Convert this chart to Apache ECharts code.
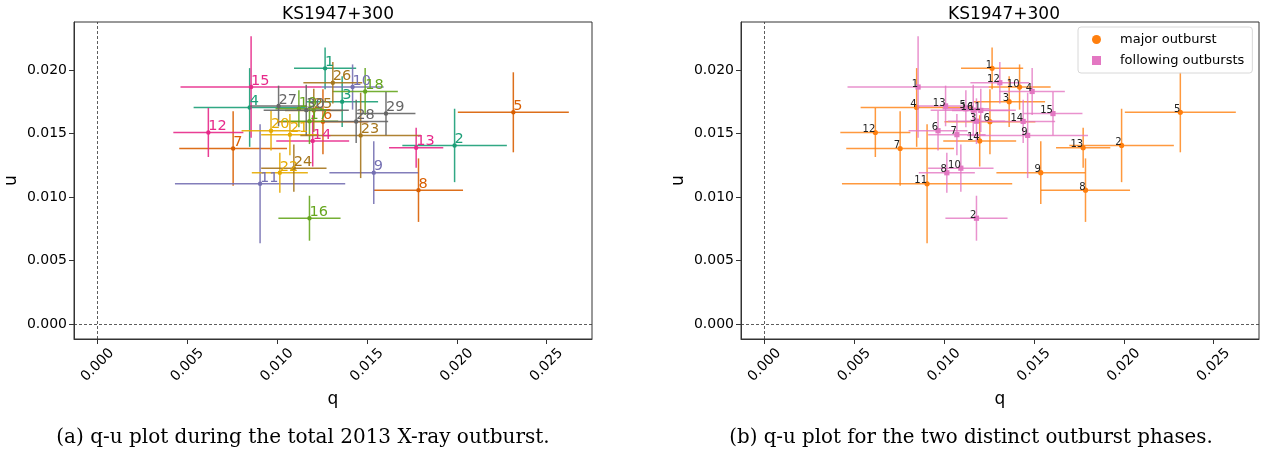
<!DOCTYPE html>
<html>
<head>
<meta charset="utf-8">
<script src="https://cdn.jsdelivr.net/npm/echarts@6/dist/echarts.min.js"></script>
<style>
  html, body { margin: 0; padding: 0; background: #ffffff; }
  #chart { width: 1261px; height: 455px; }
</style>
</head>
<body>
<div id="chart"></div>
<script>
// Observation numbers 1..30 (1-14: major outburst, 15-30: following outbursts)
const obsNumbers = [1, 2, 3, 4, 5, 6, 7, 8, 9, 10, 11, 12, 13, 14, 15,
                    16, 17, 18, 19, 20, 21, 22, 23, 24, 25, 26, 27, 28, 29, 30];
// Normalised Stokes q and u
const qVals = [0.01267, 0.01988, 0.01362, 0.00847, 0.02315, 0.01255, 0.00755, 0.01787, 0.01538, 0.01420,
               0.00905, 0.00617, 0.01774, 0.01198, 0.00855, 0.01180, 0.01180, 0.01490, 0.01121, 0.00966,
               0.01071, 0.01015, 0.01465, 0.01093, 0.01204, 0.01310, 0.01008, 0.01440, 0.01606, 0.01162];
const uVals = [0.02013, 0.01406, 0.01751, 0.01705, 0.01667, 0.01593, 0.01382, 0.01054, 0.01192, 0.01866,
               0.01104, 0.01508, 0.01388, 0.01442, 0.01866, 0.00833, 0.01597, 0.01831, 0.01695, 0.01522,
               0.01491, 0.01191, 0.01485, 0.01227, 0.01682, 0.01900, 0.01717, 0.01595, 0.01657, 0.01684];
// 1-sigma errors on q and u
const qErrs = [0.00173, 0.00291, 0.00200, 0.00312, 0.00309, 0.00253, 0.00300, 0.00248, 0.00247, 0.00173,
               0.00474, 0.00195, 0.00151, 0.00203, 0.00393, 0.00173, 0.00160, 0.00182, 0.00130, 0.00164,
               0.00160, 0.00156, 0.00336, 0.00182, 0.00160, 0.00164, 0.00157, 0.00178, 0.00164, 0.00237];
const uErrs = [0.00165, 0.00289, 0.00200, 0.00310, 0.00315, 0.00256, 0.00293, 0.00250, 0.00248, 0.00178,
               0.00468, 0.00193, 0.00157, 0.00202, 0.00400, 0.00177, 0.00180, 0.00185, 0.00145, 0.00155,
               0.00162, 0.00157, 0.00336, 0.00186, 0.00170, 0.00163, 0.00160, 0.00170, 0.00170, 0.00200];
const majorCount = 14;

const qTicks = [0, 0.005, 0.010, 0.015, 0.020, 0.025];
const uTicks = [0, 0.005, 0.010, 0.015, 0.020];
const qRange = [-0.00131, 0.02753];
const uRange = [-0.00118, 0.02378];

// Dark2 colour map sampled across the observations
const dark2 = ['#1b9e77', '#d95f02', '#7570b3', '#e7298a', '#66a61e', '#e6ab02', '#a6761d', '#666666'];
function dark2At(i, n) {
  return dark2[Math.min(7, Math.floor(i / (n - 1) * 8))];
}
const majorColor = '#ff7f0e';
const followColor = '#e377c2';

const rows = obsNumbers.map((n, i) => [qVals[i], uVals[i], qErrs[i], uErrs[i], i]);
const majorRows = rows.slice(0, majorCount).map((r, j) => r.slice(0, 4).concat([j + 1]));
const followRows = rows.slice(majorCount).map((r, j) => r.slice(0, 4).concat([j + 1]));

function errorBars(colorOf, marker, lineOpacity) {
  return function (params, api) {
    const q = api.value(0), u = api.value(1), qe = api.value(2), ue = api.value(3), k = api.value(4);
    const a = api.coord([q - qe, u]), b = api.coord([q + qe, u]);
    const c = api.coord([q, u - ue]), d = api.coord([q, u + ue]);
    const p = api.coord([q, u]);
    const col = colorOf(k);
    const mark = marker === 'square'
      ? { type: 'rect', shape: { x: p[0] - 2.6, y: p[1] - 2.6, width: 5.2, height: 5.2 }, style: { fill: col } }
      : { type: 'circle', shape: { cx: p[0], cy: p[1], r: marker === 'dot' ? 2.2 : 2.6 }, style: { fill: col } };
    return {
      type: 'group',
      children: [
        { type: 'line', shape: { x1: a[0], y1: a[1], x2: b[0], y2: b[1] }, style: { stroke: col, lineWidth: 1.5, opacity: lineOpacity } },
        { type: 'line', shape: { x1: c[0], y1: c[1], x2: d[0], y2: d[1] }, style: { stroke: col, lineWidth: 1.5, opacity: lineOpacity } },
        mark
      ]
    };
  };
}

function numberLabels(colorOf, align, fontSize, dy) {
  return function (params, api) {
    const p = api.coord([api.value(0), api.value(1)]);
    const k = api.value(4);
    return {
      type: 'text',
      style: {
        text: String(align === 'left' ? obsNumbers[k] : k),
        x: p[0], y: p[1] + dy,
        align: align, verticalAlign: 'bottom',
        fill: colorOf(k),
        font: fontSize + 'px "DejaVu Sans"'
      }
    };
  };
}

const dims = ['q', 'u', 'qe', 'ue', 'k'];
const axisText = { color: '#000', fontFamily: 'DejaVu Sans', fontSize: 14 };

function xAxisFor(g) {
  return {
    gridIndex: g, type: 'value', min: qRange[0], max: qRange[1],
    name: 'q', nameLocation: 'middle', nameGap: 41,
    nameTextStyle: { color: '#000', fontFamily: 'DejaVu Sans', fontSize: 17 },
    axisLine: { show: true, onZero: false, lineStyle: { color: '#333', width: 1 } },
    axisTick: { show: true, length: 5, customValues: qTicks, lineStyle: { color: '#333' } },
    axisLabel: Object.assign({ customValues: qTicks, rotate: 45, margin: 26, align: 'center', verticalAlign: 'middle',
                               formatter: v => v.toFixed(3) }, axisText),
    splitLine: { show: false }
  };
}
function yAxisFor(g) {
  return {
    gridIndex: g, type: 'value', min: uRange[0], max: uRange[1],
    name: 'u', nameLocation: 'middle', nameGap: 54, nameRotate: 90,
    nameTextStyle: { color: '#000', fontFamily: 'DejaVu Sans', fontSize: 17 },
    axisLine: { show: true, onZero: false, lineStyle: { color: '#333', width: 1 } },
    axisTick: { show: true, length: 5, customValues: uTicks, lineStyle: { color: '#333' } },
    axisLabel: Object.assign({ customValues: uTicks, margin: 7, formatter: v => v.toFixed(3) }, axisText),
    splitLine: { show: false }
  };
}

function zeroLines(g) {
  return {
    type: 'line', xAxisIndex: g, yAxisIndex: g, data: [], silent: true,
    markLine: {
      silent: true, symbol: 'none', label: { show: false },
      lineStyle: { color: '#333', type: [3, 2], width: 0.8 },
      data: [{ xAxis: 0 }, { yAxis: 0 }]
    }
  };
}

const option = {
  animation: false,
  backgroundColor: '#ffffff',
  title: [
    { text: 'KS1947+300', left: 333, top: 1, textAlign: 'center',
      textStyle: { fontFamily: 'DejaVu Sans', fontSize: 17, fontWeight: 'normal', color: '#000' } },
    { text: 'KS1947+300', left: 999, top: 1, textAlign: 'center',
      textStyle: { fontFamily: 'DejaVu Sans', fontSize: 17, fontWeight: 'normal', color: '#000' } },
    { text: '(a) q-u plot during the total 2013 X-ray outburst.', left: 298, top: 423, textAlign: 'center',
      textStyle: { fontFamily: 'DejaVu Serif', fontSize: 20, fontWeight: 'normal', color: '#000' } },
    { text: '(b) q-u plot for the two distinct outburst phases.', left: 966, top: 423, textAlign: 'center',
      textStyle: { fontFamily: 'DejaVu Serif', fontSize: 19.8, fontWeight: 'normal', color: '#000' } }
  ],
  legend: {
    orient: 'vertical', left: 1078, top: 27, padding: [6, 8, 6, 14], itemGap: 8,
    itemWidth: 9, itemHeight: 9,
    backgroundColor: 'rgba(255,255,255,0.8)', borderColor: '#d8d8d8', borderWidth: 1, borderRadius: 3,
    textStyle: { fontFamily: 'DejaVu Sans', fontSize: 13, color: '#000', padding: [0, 0, 0, 14] },
    data: [
      { name: 'major outburst', icon: 'circle', itemStyle: { color: majorColor } },
      { name: 'following outbursts', icon: 'rect', itemStyle: { color: followColor } }
    ]
  },
  grid: [
    { left: 74, top: 22, width: 518, height: 317, show: true, borderColor: '#333', borderWidth: 1 },
    { left: 741, top: 22, width: 518, height: 317, show: true, borderColor: '#333', borderWidth: 1 }
  ],
  xAxis: [xAxisFor(0), xAxisFor(1)],
  yAxis: [yAxisFor(0), yAxisFor(1)],
  series: [
    zeroLines(0),
    zeroLines(1),
    {
      type: 'custom', name: 'all observations', xAxisIndex: 0, yAxisIndex: 0, silent: true,
      dimensions: dims, encode: { x: 0, y: 1 }, data: rows,
      renderItem: errorBars(k => dark2At(k, obsNumbers.length), 'dot', 0.9), z: 3
    },
    {
      type: 'custom', name: 'all labels', xAxisIndex: 0, yAxisIndex: 0, silent: true,
      dimensions: dims, encode: { x: 0, y: 1 }, data: rows,
      renderItem: numberLabels(k => dark2At(k, obsNumbers.length), 'left', 14.5, 1.5), z: 5
    },
    {
      type: 'custom', name: 'major outburst', xAxisIndex: 1, yAxisIndex: 1, silent: true,
      itemStyle: { color: majorColor },
      dimensions: dims, encode: { x: 0, y: 1 }, data: majorRows,
      renderItem: errorBars(() => majorColor, 'circle', 0.8), z: 3
    },
    {
      type: 'custom', name: 'following outbursts', xAxisIndex: 1, yAxisIndex: 1, silent: true,
      itemStyle: { color: followColor },
      dimensions: dims, encode: { x: 0, y: 1 }, data: followRows,
      renderItem: errorBars(() => followColor, 'square', 0.8), z: 3
    },
    {
      type: 'custom', name: 'major labels', xAxisIndex: 1, yAxisIndex: 1, silent: true,
      dimensions: dims, encode: { x: 0, y: 1 }, data: majorRows,
      renderItem: numberLabels(() => '#222', 'right', 10, 2), z: 5
    },
    {
      type: 'custom', name: 'following labels', xAxisIndex: 1, yAxisIndex: 1, silent: true,
      dimensions: dims, encode: { x: 0, y: 1 }, data: followRows,
      renderItem: numberLabels(() => '#222', 'right', 10, 2), z: 5
    }
  ]
};

const chart = echarts.init(document.getElementById('chart'), null, { renderer: 'canvas' });
chart.setOption(option);
</script>
</body>
</html>
